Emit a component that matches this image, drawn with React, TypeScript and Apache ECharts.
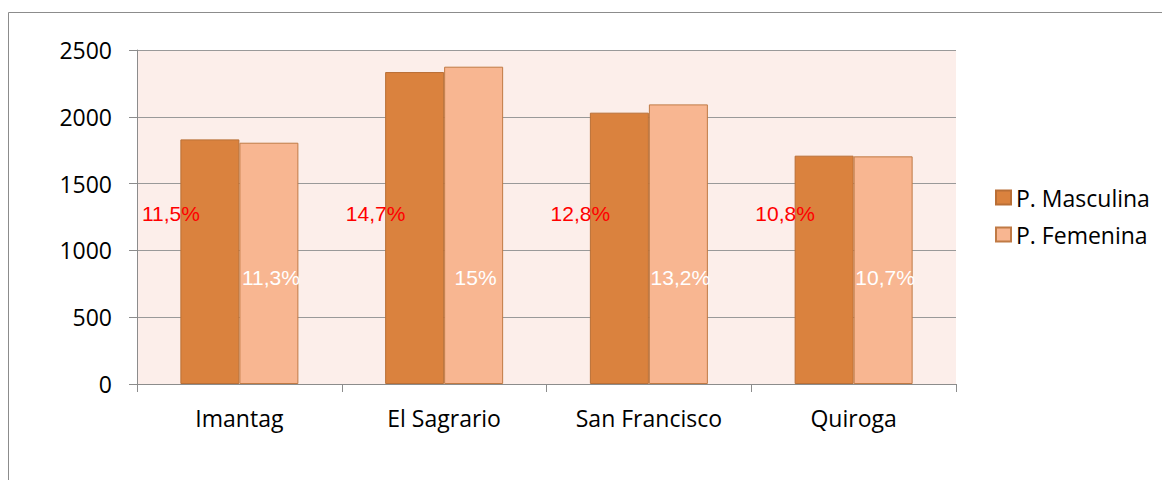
import React, { useEffect, useRef } from "react";
import * as echarts from "echarts";

const categories = ["Imantag", "El Sagrario", "San Francisco", "Quiroga"];
const masculina = [1831, 2335, 2031, 1709];
const femenina = [1806, 2375, 2093, 1704];
const masculinaPct = ["11,5%", "14,7%", "12,8%", "10,8%"];
const femeninaPct = ["11,3%", "15%", "13,2%", "10,7%"];
const seriesNames = ["P. Masculina", "P. Femenina"];

export default function App() {
  const ref = useRef<HTMLDivElement>(null);
  useEffect(() => {
    document.body.style.margin = "0";
    if (!ref.current) return;
    const chart = echarts.init(ref.current, null, { renderer: "svg" });
    const font = "'Open Sans', sans-serif";
    chart.setOption({
      animation: false,
      backgroundColor: "#ffffff",
      graphic: [
        {
          type: "rect",
          shape: { x: 8.5, y: 12.5, width: 1200, height: 520 },
          style: { fill: "none", stroke: "#8c8c8c", lineWidth: 1 },
          silent: true,
        },
      ],
      legend: {
        orient: "vertical",
        left: 995,
        top: 186,
        padding: 0,
        itemWidth: 15,
        itemHeight: 14,
        itemGap: 14,
        icon: "rect",
        textStyle: { fontFamily: font, fontSize: 23, color: "#000" },
        data: seriesNames,
      },
      grid: { left: 137, top: 50, right: 206, bottom: 96, containLabel: false, show: true, backgroundColor: "#FCEEEA", borderWidth: 0 },
      xAxis: {
        type: "category",
        data: categories,
        axisLine: { lineStyle: { color: "#8c8c8c", width: 1 } },
        axisTick: { show: true, length: 8, lineStyle: { color: "#8c8c8c" } },
        axisLabel: { fontFamily: font, fontSize: 23, color: "#000", margin: 22 },
        splitLine: { show: false },
      },
      yAxis: {
        type: "value",
        min: 0,
        max: 2500,
        interval: 500,
        axisLine: { show: true, lineStyle: { color: "#8c8c8c", width: 1 } },
        axisTick: { show: true, length: 8, lineStyle: { color: "#8c8c8c" } },
        axisLabel: { fontFamily: font, fontSize: 23, color: "#000", margin: 25, formatter: (v: number) => String(v) },
        splitLine: { show: true, lineStyle: { color: "#999999", width: 1 } },
      },
      series: [
        {
          name: seriesNames[0],
          type: "bar",
          data: masculina,
          barWidth: 59,
          barGap: "0%",
          itemStyle: { color: "#DA823E", borderColor: "#B96F36", borderWidth: 1 },
          label: {
            show: true,
            position: "insideBottom",
            distance: 0,
            offset: [-39, -160],
            color: "#FF0000",
            fontFamily: "'Liberation Sans', Arial, sans-serif",
            fontSize: 21,
            formatter: (p: any) => masculinaPct[p.dataIndex],
          },
        },
        {
          name: seriesNames[1],
          type: "bar",
          data: femenina,
          barWidth: 59,
          barGap: "0%",
          itemStyle: { color: "#F8B691", borderColor: "#C07A45", borderWidth: 1 },
          label: {
            show: true,
            position: "insideBottom",
            distance: 0,
            offset: [2, -96],
            color: "#FFFFFF",
            fontFamily: "'Liberation Sans', Arial, sans-serif",
            fontSize: 21,
            formatter: (p: any) => femeninaPct[p.dataIndex],
          },
        },
      ],
    });
    return () => chart.dispose();
  }, []);
  return <div ref={ref} style={{ width: 1162, height: 480 }} />;
}
